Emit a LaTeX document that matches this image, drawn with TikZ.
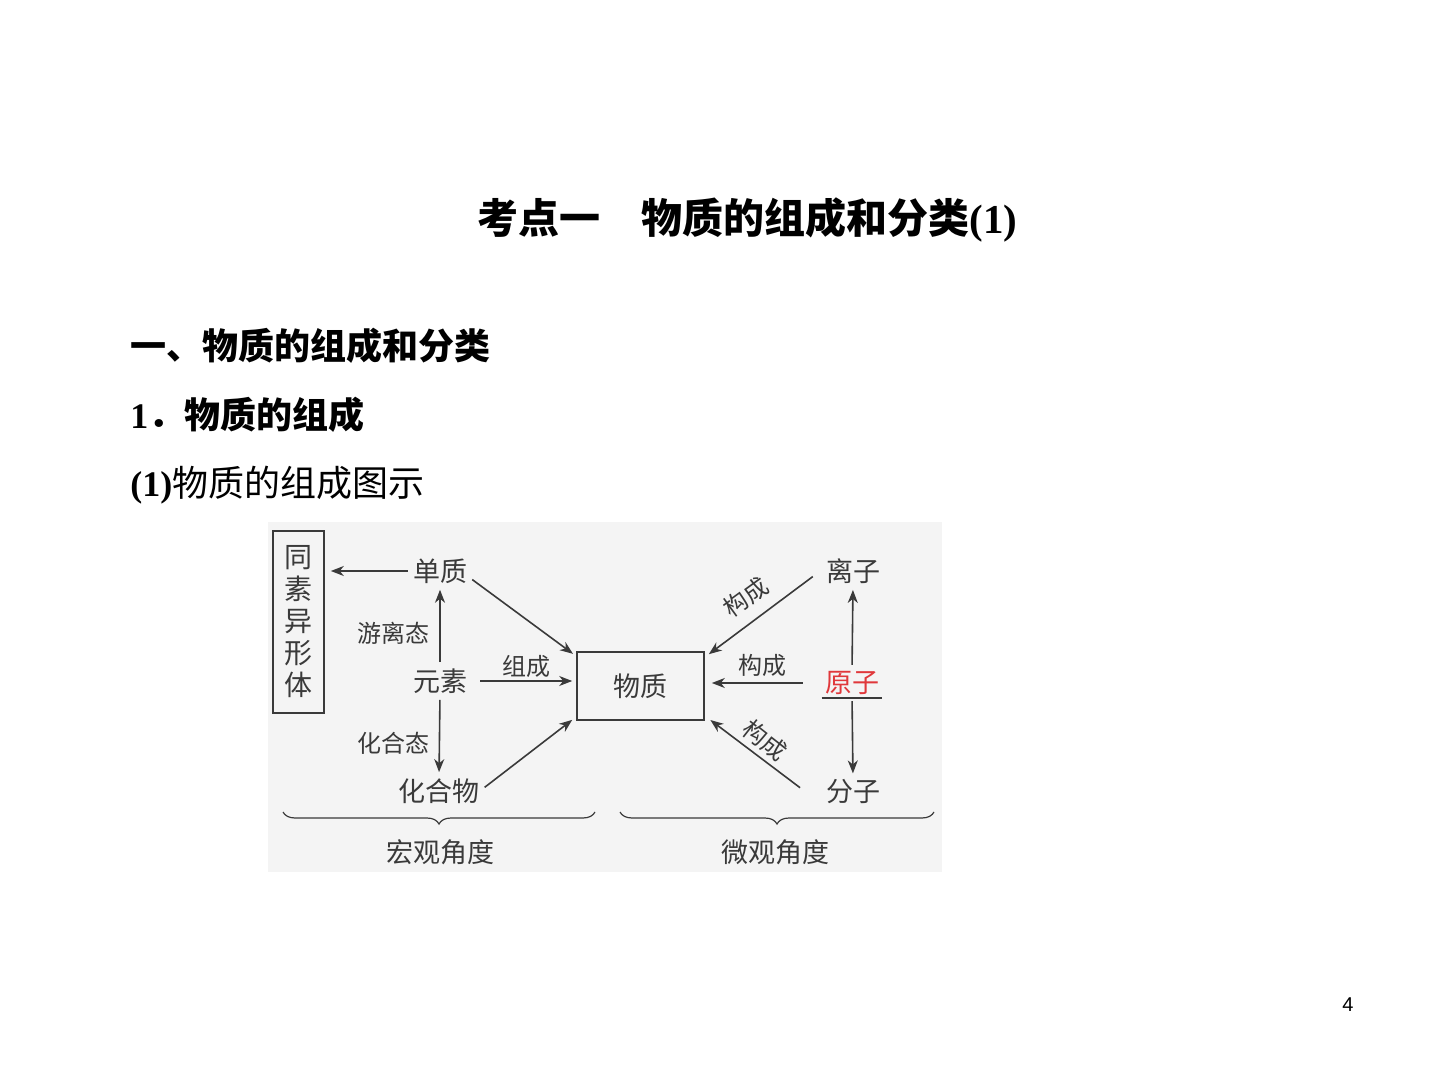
\documentclass[tikz,border=0pt]{standalone}
\usepackage{fontspec}
\setmainfont{Liberation Serif}
\setsansfont{Liberation Sans}
\newfontfamily\cjk{Noto Sans CJK SC}
\usetikzlibrary{arrows.meta,calc,decorations.pathreplacing}
\definecolor{ink}{HTML}{3A3A3A}
\definecolor{atomred}{HTML}{E0383B}
\definecolor{panel}{HTML}{F4F4F4}

\begin{document}
\begin{tikzpicture}[x=0.5pt,y=-0.5pt,
   word/.style={font=\cjk\fontsize{13.5}{16}\selectfont,text=ink,inner sep=0pt},
   tag/.style={font=\cjk\fontsize{12}{14}\selectfont,text=ink,inner sep=0pt},
   arr/.style={draw=ink,line width=0.8pt,-{Stealth[length=6.5pt,width=5pt,inset=2pt]}},
   brace/.style={draw=ink,line width=0.6pt,decorate,decoration={brace,mirror,amplitude=6pt}}]
   \useasboundingbox (0,0) rectangle (1440,1080);
   % headings of the slide
   \node [anchor=west,inner sep=0pt,font=\fontsize{20.5}{24}\selectfont] (title) at (477,220)
     {{\cjk\bfseries 考点一　物质的组成和分类}\textbf{(1)}};
   \node [anchor=west,inner sep=0pt,font=\cjk\bfseries\fontsize{18}{22}\selectfont] (sec) at (130,346) {一、物质的组成和分类};
   \node [anchor=west,inner sep=0pt,font=\fontsize{18}{22}\selectfont] (sub) at (130,415) {\textbf{1}{\cjk\bfseries ．物质的组成}};
   \node [anchor=west,inner sep=0pt,font=\fontsize{18}{22}\selectfont] (subsub) at (130,485) {\textbf{(1)}{\cjk 物质的组成图示}};
   \node [inner sep=0pt,font=\sffamily\fontsize{10}{12}\selectfont] (page) at (1348,1005) {4};
   % grey panel of the figure
   \fill [panel] (268,522) rectangle (942,872);
   % macro side
   \node [draw=ink,line width=0.8pt,word,minimum width=25.5pt,minimum height=91pt,align=center,
          font=\cjk\fontsize{14}{16}\selectfont] (allotrope) at (298.5,622) {同\\素\\异\\形\\体};
   \node [word] (simple) at (440,571) {单质};
   \node [word] (element) at (440,681) {元素};
   \node [word] (compound) at (439,791) {化合物};
   \node [draw=ink,line width=0.8pt,word,minimum width=63.5pt,minimum height=34pt] (matter) at (640.5,686) {物质};
   % micro side
   \node [word] (ion) at (853,571) {离子};
   \node [word,text=atomred] (atom) at (852,683) {原子};
   \node [word] (molecule) at (853,792) {分子};
   \draw [ink,line width=0.6pt] ([xshift=-1.5pt,yshift=-1.5pt]atom.south west) -- ([xshift=1.5pt,yshift=-1.5pt]atom.south east);
   % connectors
   \draw [arr,shorten <=2.5pt,shorten >=3pt] (simple.west) -- (allotrope.east |- simple.west);
   \draw [arr,shorten <=3pt,shorten >=3pt] (element.north) -- (simple.south);
   \draw [arr,shorten <=3pt,shorten >=3pt] (element.south) -- (compound.north);
   \draw [arr,shorten <=6.5pt,shorten >=2pt] (element.east) -- (matter.west |- element.east);
   \draw [arr,shorten <=3pt,shorten >=2pt] ($(simple.east)+(0,5)$) -- ($(matter.north west)+(0,5)$);
   \draw [arr,shorten <=3pt,shorten >=2.5pt] (compound.east) -- ($(matter.south west)+(0,-4)$);
   \draw [arr,shorten <=8pt,shorten >=2.5pt] ($(ion.west)+(0,-4)$) -- ($(matter.north east)+(0,6)$);
   \draw [arr,shorten <=11pt,shorten >=3.5pt] (atom.west) -- (matter.east |- atom.west);
   \draw [arr,shorten <=16pt,shorten >=3.5pt] ($(molecule.west)+(0,15)$) -- ($(matter.south east)+(0,-5)$);
   \draw [arr,shorten <=3pt,shorten >=3pt] (atom.north) -- (ion.south);
   \draw [arr,shorten <=3pt,shorten >=3pt] (atom.south) -- (molecule.north);
   % labels of the connectors
   \node [tag] (free) at (393,633) {游离态};
   \node [tag] (bound) at (393,743) {化合态};
   \node [tag] (make) at (526,666) {组成};
   \node [tag,rotate=36] (buildion) at (746,597) {构成};
   \node [tag] (buildatom) at (762,665) {构成};
   \node [tag,rotate=-38] (buildmol) at (765,740) {构成};
   % braces and their captions
   \coordinate (macroL) at (283,812);
   \coordinate (macroR) at (595,812);
   \coordinate (microL) at (620,812);
   \coordinate (microR) at (934,812);
   \draw [brace] (macroL) -- (macroR);
   \draw [brace] (microL) -- (microR);
   \node [word] (macro) at (440,852) {宏观角度};
   \node [word] (micro) at (775,852) {微观角度};
\end{tikzpicture}
\end{document}
